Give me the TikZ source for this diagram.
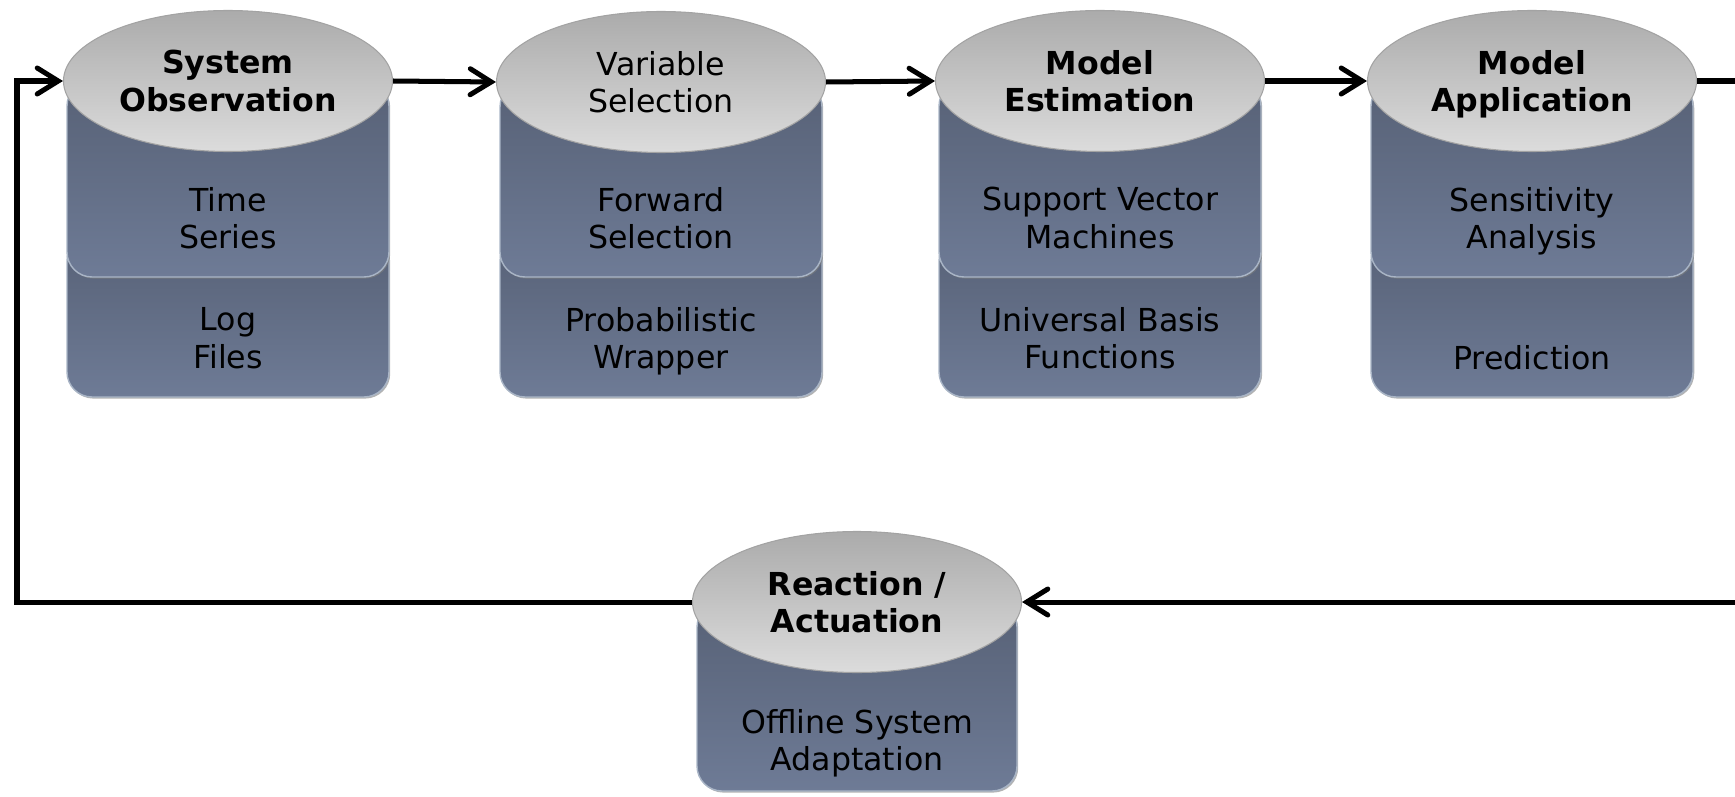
\documentclass[tikz,border=0pt]{standalone}
\usepackage{fontspec}
\setmainfont{DejaVu Sans}
\usetikzlibrary{shapes.geometric,arrows.meta,shadows}

\definecolor{blkTop}{HTML}{576176}
\definecolor{blkBot}{HTML}{6E7B96}
\definecolor{blkEdge}{HTML}{A9B5C6}
\definecolor{lidUp}{HTML}{ABABAB}
\definecolor{lidDown}{HTML}{DCDCDC}
\definecolor{lidEdge}{HTML}{A3A3A3}

\tikzset{
	blk/.style={top color=blkTop, bottom color=blkBot, draw=blkEdge, line width=0.8pt,
		rounded corners=0.5cm, drop shadow={shadow xshift=0.7pt, shadow yshift=-0.9pt, opacity=0.6}},
	lid/.style={ellipse, top color=lidUp, bottom color=lidDown, draw=lidEdge, line width=0.6pt,
		minimum width=6.58cm, minimum height=2.82cm, inner sep=0pt, align=center, text depth=0pt,
		font=\fontsize{18}{21.4}\selectfont},
	txt/.style={align=center, text depth=0pt, font=\fontsize{18}{21.4}\selectfont},
	flow/.style={line width=2.85pt, -{Straight Barb[length=0.42cm, width=0.52cm, line cap=round]}},
}

\begin{document}
\begin{tikzpicture}
		%\draw [help lines] (0,0) grid (35,16);
		\useasboundingbox (0,0) rectangle (34.7,15.92);
		
		% Observation
		\draw [blk] (1.34,11.2) rectangle (7.78,7.98);
		\draw [blk] (1.34,14.3) rectangle (7.78,10.38);
		\node [txt] (obsA) at (4.56,11.56) {Time\\Series};
		\node [txt] (obsB) at (4.56,9.16) {Log\\Files};
		\node [lid] (obs) at (4.56,14.3) {\textbf{System}\\\textbf{Observation}};
		
		% Selection
		\draw [blk] (10.0,11.2) rectangle (16.44,7.98);
		\draw [blk] (10.0,14.28) rectangle (16.44,10.38);
		\node [txt] (selA) at (13.22,11.56) {Forward\\Selection};
		\node [txt] (selB) at (13.22,9.16) {Probabilistic\\Wrapper};
		\node [lid] (sel) at (13.22,14.28) {Variable\\Selection};
		
		% Estimation
		\draw [blk] (18.78,11.2) rectangle (25.22,7.98);
		\draw [blk] (18.78,14.3) rectangle (25.22,10.38);
		\node [txt] (estA) at (22.0,11.56) {Support Vector\\Machines};
		\node [txt] (estB) at (22.0,9.16) {Universal Basis\\Functions};
		\node [lid] (est) at (22.0,14.3) {\textbf{Model}\\\textbf{Estimation}};
		
		% Application
		\draw [blk] (27.42,11.2) rectangle (33.86,7.98);
		\draw [blk] (27.42,14.3) rectangle (33.86,10.38);
		\node [txt] (appA) at (30.64,11.56) {Sensitivity\\Analysis};
		\node [txt] (appB) at (30.64,8.78) {Prediction};
		\node [lid] (app) at (30.64,14.3) {\textbf{Model}\\\textbf{Application}};
		
		% Reaction
		\draw [blk] (13.94,3.88) rectangle (20.34,0.1);
		\node [txt] (reaA) at (17.14,1.12) {Offline System\\Adaptation};
		\node [lid] (rea) at (17.14,3.88) {\textbf{Reaction /}\\\textbf{Actuation}};
		
		% Frecce
		\draw [flow] (obs.east) -- (sel.west);
		\draw [flow] (sel.east) -- (est.west);
		\draw [flow] (est.east) -- (app.west);
		\coordinate (rt) at (34.85,14.3);
		\coordinate (rb) at (34.85,3.88);
		\draw [flow] (app.east) -- (rt) -- (rb) -- (rea.east);
		\coordinate (lb) at (0.34,3.88);
		\coordinate (lt) at (0.34,14.3);
		\draw [flow] (rea.west) -- (lb) -- (lt) -- (obs.west);
	\end{tikzpicture}
\end{document}
